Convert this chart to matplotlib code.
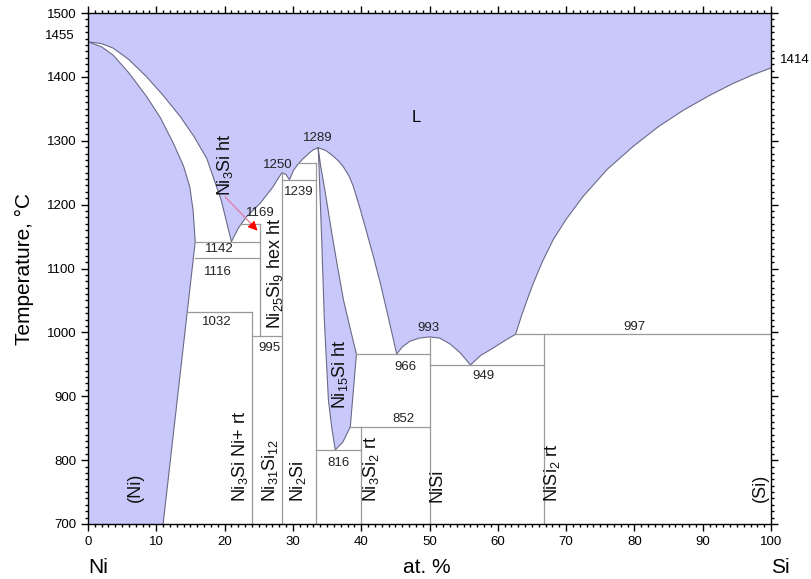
#!/usr/bin/env python3
"""
Диаграмма состояния Ni-Si.
"""

import matplotlib
matplotlib.use("Agg")
import matplotlib.pyplot as plt
from matplotlib.ticker import MultipleLocator

plt.rcParams["font.family"] = ["Liberation Sans", "DejaVu Sans"]
plt.rcParams["mathtext.fontset"] = "custom"
plt.rcParams["mathtext.rm"] = "Liberation Sans"
plt.rcParams["mathtext.default"] = "regular"

# ── Данные ───────────────────────────────────────────────────────────────────
# ликвидус (Ni) -> эвтектика 1142
liq_ni_x = [0, 2.0, 3.7, 6.0, 8.6, 11.0, 13.5, 15.5, 17.4, 19.5, 21.0]
liq_ni_t = [1455, 1452, 1445, 1427, 1400, 1371, 1338, 1307, 1272, 1207, 1142]
# ликвидус от эвтектики до максимума 1289
liq_mid_x = [21.0, 22.0, 23.2, 25.2, 27.1, 27.9, 28.4, 29.0, 29.5, 30.1,
             30.8, 31.5, 32.3, 33.0, 33.7]
liq_mid_t = [1142, 1163, 1181, 1202, 1228, 1242, 1250, 1247, 1239, 1254,
             1264, 1272, 1280, 1286, 1289]
# ликвидус справа от 1289 до эвтектики 966
liq_r1_x = [33.7, 34.8, 35.9, 36.8, 37.4, 38.2, 38.8, 39.8, 40.8, 41.8,
            42.8, 44.0, 45.2]
liq_r1_t = [1289, 1285, 1276, 1267, 1259, 1245, 1230, 1195, 1157, 1118,
            1077, 1022, 966]
# ликвидус NiSi
liq_r2_x = [45.2, 46.0, 47.1, 48.5, 50.0, 51.5, 53.0, 54.5, 56.0, 57.5,
            59.4, 61.0, 62.6]
liq_r2_t = [966, 977, 986, 991, 993, 991, 982, 968, 949, 964,
            976, 987, 997]
# ликвидус (Si)
liq_si_x = [62.6, 63.5, 64.4, 65.2, 66.5, 68.1, 70.0, 72.5, 76.0, 79.8,
            83.5, 87.2, 91.0, 94.5, 97.5, 100]
liq_si_t = [997, 1027, 1054, 1077, 1110, 1145, 1177, 1213, 1255, 1291,
            1322, 1348, 1371, 1390, 1404, 1414]

# солидус и сольвус (Ni)
sol_ni_x = [0, 2.0, 3.7, 6.0, 8.6, 10.6, 12.5, 14.0, 14.9, 15.4, 15.7, 11.0]
sol_ni_t = [1455, 1447, 1434, 1406, 1369, 1336, 1296, 1260, 1228, 1190,
            1142, 700]

# область Ni15Si ht
theta_l_x = [33.7, 33.8, 34.2, 34.6, 35.2, 35.7, 36.2]
theta_l_t = [1289, 1265, 1150, 1020, 894, 850, 816]
theta_r_x = [36.2, 37.3, 38.4, 39.3, 38.3, 37.4, 36.5, 35.7, 34.8, 34.0, 33.7]
theta_r_t = [816, 828, 852, 966, 1010, 1051, 1105, 1155, 1215, 1265, 1289]

# нонвариантные горизонтали: T, x0, x1
inv_t  = [1142, 1116, 1032, 1169, 995, 1265, 1239, 816, 966, 852, 949, 997]
inv_x0 = [15.7, 15.7, 14.6, 22.3, 24.0, 30.8, 28.4, 33.4, 39.3, 38.4, 50.0, 62.6]
inv_x1 = [25.2, 25.2, 24.0, 25.2, 28.4, 33.4, 33.4, 40.0, 50.0, 50.0, 66.7, 100]

# соединения (вертикали): x, T0, T1
comp_x  = [24.0, 25.2, 28.4, 33.4, 40.0, 50.0, 66.7]
comp_t0 = [700, 995, 700, 700, 700, 700, 700]
comp_t1 = [1032, 1169, 1250, 1265, 852, 993, 997]

# подписи температур: текст, x, T
num_lbl = ["1289", "1250", "1239", "1169", "1142", "1116", "1032", "995",
           "993", "966", "949", "852", "816", "997"]
num_x = [33.7, 27.8, 30.9, 25.3, 19.3, 19.0, 18.9, 26.5,
         49.9, 46.5, 57.9, 46.2, 36.7, 80.0]
num_t = [1304, 1262, 1220, 1187, 1131, 1095, 1017, 975,
         1007, 946, 931, 865, 796, 1009]

# вертикальные подписи фаз: текст, x, T низа
phase_lbl = ["(Ni)", r"Ni$_3$Si Ni+ rt", r"Ni$_{31}$Si$_{12}$", r"Ni$_2$Si",
             r"Ni$_3$Si$_2$ rt", "NiSi", r"NiSi$_2$ rt", "(Si)"]
phase_x = [6.9, 22.25, 26.6, 30.8, 41.5, 51.1, 67.9, 98.4]
phase_t = 734
# ─────────────────────────────────────────────────────────────────────────────

fill_c = "#c8c8fa"
edge_c = "#6a6a88"
grey_c = "#9a9a9a"

fig = plt.figure(figsize=(8.11, 5.79), dpi=100)
ax = fig.add_axes([0.1085, 0.095, 0.8422, 0.8825])

# Жидкость
lx = liq_ni_x + liq_mid_x[1:] + liq_r1_x[1:] + liq_r2_x[1:] + liq_si_x[1:]
lt = liq_ni_t + liq_mid_t[1:] + liq_r1_t[1:] + liq_r2_t[1:] + liq_si_t[1:]
ax.fill([0] + lx + [100], [1500] + lt + [1500], color=fill_c, lw=0)
ax.plot(lx, lt, color=edge_c, lw=0.8)

# (Ni)
ax.fill([0] + sol_ni_x + [0], [1455] + sol_ni_t + [700], color=fill_c, lw=0)
ax.plot(sol_ni_x, sol_ni_t, color=edge_c, lw=0.8)

# Ni15Si ht
tx = theta_l_x + theta_r_x[1:]
tt = theta_l_t + theta_r_t[1:]
ax.fill(tx, tt, color=fill_c, lw=0)
ax.plot(tx, tt, color=edge_c, lw=0.8)

for t, x0, x1 in zip(inv_t, inv_x0, inv_x1):
    ax.plot([x0, x1], [t, t], color=grey_c, lw=0.9)
for x, t0, t1 in zip(comp_x, comp_t0, comp_t1):
    ax.plot([x, x], [t0, t1], color=grey_c, lw=0.9)

for s, x, t in zip(num_lbl, num_x, num_t):
    ax.text(x, t, s, ha="center", va="center", fontsize=9.5, color="#222222")

for s, x in zip(phase_lbl, phase_x):
    ax.text(x, phase_t, s, rotation=90, ha="center", va="bottom",
            fontsize=13, color="#111111")

ax.text(27.4, 1092, r"Ni$_{25}$Si$_9$ hex ht", rotation=90, ha="center",
        va="center", fontsize=13, color="#111111")
ax.text(36.9, 935, r"Ni$_{15}$Si ht", rotation=90, ha="center",
        va="center", fontsize=13, color="#111111")
ax.text(20.1, 1262, r"Ni$_3$Si ht", rotation=90, ha="center",
        va="center", fontsize=13, color="#111111")
ax.text(48.0, 1336, "L", ha="center", va="center", fontsize=12)

# стрелка к Ni3Si ht
ax.plot([20.1, 24.6], [1212, 1162], color="#e07a9a", lw=0.9)
ax.annotate("", xy=(25.1, 1156), xytext=(24.3, 1165),
            arrowprops=dict(arrowstyle="-|>", color="red", lw=0.8,
                            mutation_scale=14))

# температуры плавления компонентов
ax.text(-2.0, 1464, "1455", ha="right", va="center", fontsize=9.5,
        clip_on=False)
ax.text(101.3, 1426, "1414", ha="left", va="center", fontsize=9.5,
        clip_on=False)

ax.set_xlim(0, 100)
ax.set_ylim(700, 1500)
ax.xaxis.set_major_locator(MultipleLocator(10))
ax.xaxis.set_minor_locator(MultipleLocator(1))
ax.yaxis.set_major_locator(MultipleLocator(100))
ax.yaxis.set_minor_locator(MultipleLocator(10))
ax.tick_params(which="both", direction="out", top=True, right=True,
               labelsize=9.5, width=1.0)
ax.tick_params(which="major", length=5)
ax.tick_params(which="minor", length=2.5)
for sp in ax.spines.values():
    sp.set_linewidth(1.0)

ax.set_ylabel("Temperature, °C", fontsize=15, labelpad=9)
ax.text(1.5, 632, "Ni", ha="center", va="center", fontsize=15, clip_on=False)
ax.text(49.6, 632, "at. %", ha="center", va="center", fontsize=15,
        clip_on=False)
ax.text(101.4, 632, "Si", ha="center", va="center", fontsize=15,
        clip_on=False)

fig.savefig("out.png", dpi=100)
